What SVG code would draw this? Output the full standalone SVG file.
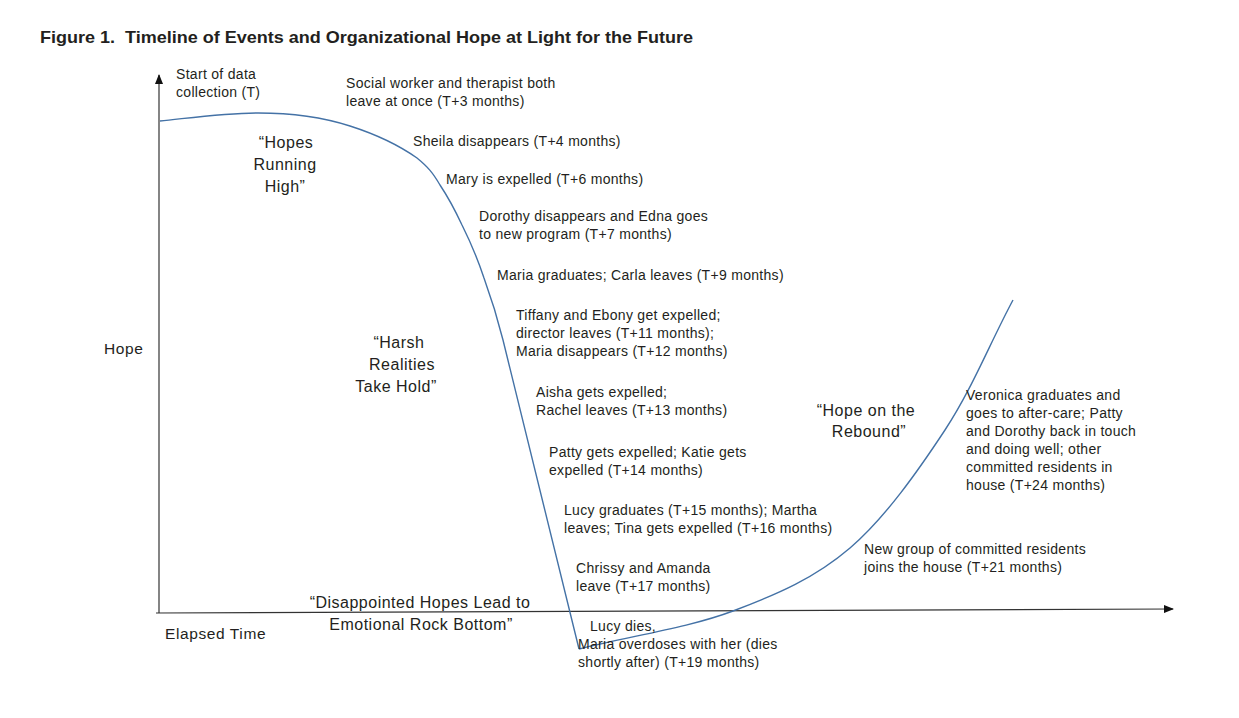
<svg xmlns="http://www.w3.org/2000/svg" width="1239" height="718" viewBox="0 0 1239 718">
<style>
text{font-family:"Liberation Sans",Arial,sans-serif;fill:#231f20}
.t{font-size:14px;letter-spacing:0.3px}
.p{font-size:16px;letter-spacing:0.5px;text-anchor:middle}
.ax{font-size:15.5px;letter-spacing:0.6px}
.title{font-size:16.5px;font-weight:bold;white-space:pre}
.axis{stroke:#333;stroke-width:1.2;fill:none}
.curve{stroke:#4472a6;stroke-width:1.4;fill:none}
</style>
<defs>
<marker id="arr" markerWidth="10" markerHeight="8" refX="9" refY="4" orient="auto" markerUnits="userSpaceOnUse">
<path d="M0,0 L10,4 L0,8 Z" fill="#111"/>
</marker>
</defs>
<rect width="1239" height="718" fill="#fff"/>
<text class="title" x="40" y="43" textLength="653" lengthAdjust="spacingAndGlyphs">Figure 1.  Timeline of Events and Organizational Hope at Light for the Future</text>
<g id="connectors">
<line class="axis" x1="159" y1="613" x2="159" y2="75" marker-end="url(#arr)"/>
<line class="axis" x1="156" y1="613" x2="1173" y2="609" marker-end="url(#arr)"/>
<path id="curve-drop" class="curve" d="M160,121 C190,118 225,113 258,113 C290,113 322,117 350,126 C378,135 400,146 417,158 C428,167 433,173 440,185 C450,200 455,210 462,225 C472,245 478,260 484,278 C492,300 498,320 503,340 L579,649"/>
<path id="curve-rebound" class="curve" d="M579,649 C630,636 688,628 733,611 C778,594 815,578 850,548 C885,518 918,471 945,430 C972,389 990,343 1013,300"/>
</g>
<g id="axis-labels">
<text class="ax" x="104" y="354">Hope</text>
<text class="ax" x="165" y="639">Elapsed Time</text>
</g>
<g id="phases">
<g id="phase-high"><text class="p" x="286" y="148">“Hopes</text><text class="p" x="285" y="170">Running</text><text class="p" x="285" y="192">High”</text></g>
<g id="phase-harsh"><text class="p" x="399" y="348">“Harsh</text><text class="p" x="402" y="370">Realities</text><text class="p" x="396" y="392">Take Hold”</text></g>
<g id="phase-rebound"><text class="p" x="866" y="416">“Hope on the</text><text class="p" x="869" y="437">Rebound”</text></g>
<g id="phase-bottom"><text class="p" x="420" y="608">“Disappointed Hopes Lead to</text><text class="p" x="421" y="630">Emotional Rock Bottom”</text></g>
</g>
<g id="events">
<g id="e-start"><text class="t" x="176" y="79">Start of data</text><text class="t" x="176" y="97">collection (T)</text></g>
<g id="e-3"><text class="t" x="346" y="88">Social worker and therapist both</text><text class="t" x="346" y="106">leave at once (T+3 months)</text></g>
<g id="e-4"><text class="t" x="413" y="146">Sheila disappears (T+4 months)</text></g>
<g id="e-6"><text class="t" x="446" y="184">Mary is expelled (T+6 months)</text></g>
<g id="e-7"><text class="t" x="479" y="221">Dorothy disappears and Edna goes</text><text class="t" x="479" y="239">to new program (T+7 months)</text></g>
<g id="e-9"><text class="t" x="497" y="280">Maria graduates; Carla leaves (T+9 months)</text></g>
<g id="e-11"><text class="t" x="516" y="320">Tiffany and Ebony get expelled;</text><text class="t" x="516" y="338">director leaves (T+11 months);</text><text class="t" x="516" y="356">Maria disappears (T+12 months)</text></g>
<g id="e-13"><text class="t" x="536" y="397">Aisha gets expelled;</text><text class="t" x="536" y="415">Rachel leaves (T+13 months)</text></g>
<g id="e-14"><text class="t" x="549" y="457">Patty gets expelled; Katie gets</text><text class="t" x="549" y="475">expelled (T+14 months)</text></g>
<g id="e-15"><text class="t" x="564" y="515">Lucy graduates (T+15 months); Martha</text><text class="t" x="564" y="533">leaves; Tina gets expelled (T+16 months)</text></g>
<g id="e-17"><text class="t" x="576" y="573">Chrissy and Amanda</text><text class="t" x="576" y="591">leave (T+17 months)</text></g>
<g id="e-19"><text class="t" x="590" y="631">Lucy dies,</text><text class="t" x="578" y="649">Maria overdoses with her (dies</text><text class="t" x="578" y="667">shortly after) (T+19 months)</text></g>
<g id="e-21"><text class="t" x="864" y="554">New group of committed residents</text><text class="t" x="864" y="572">joins the house (T+21 months)</text></g>
<g id="e-24"><text class="t" x="966" y="400">Veronica graduates and</text><text class="t" x="966" y="418">goes to after-care; Patty</text><text class="t" x="966" y="436">and Dorothy back in touch</text><text class="t" x="966" y="454">and doing well; other</text><text class="t" x="966" y="472">committed residents in</text><text class="t" x="966" y="490">house (T+24 months)</text></g>
</g>
</svg>
